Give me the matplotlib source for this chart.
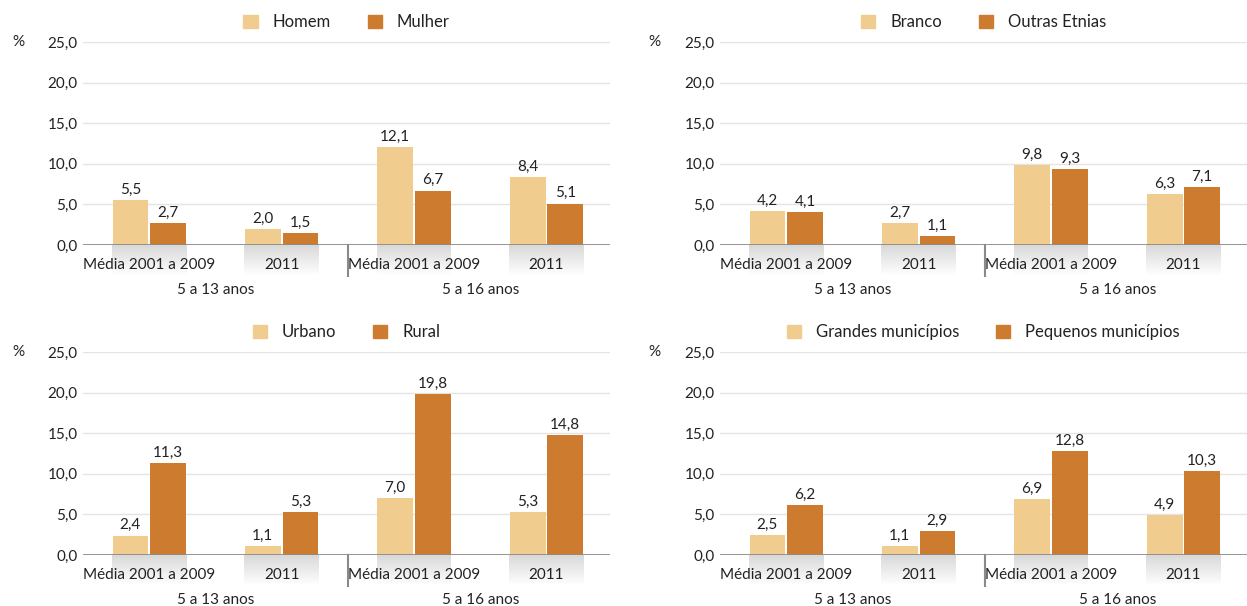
import numpy as np
import matplotlib.pyplot as plt
from matplotlib.patches import Rectangle

plt.rcParams['font.family'] = ['Lato', 'DejaVu Sans']

categorias = ['Média 2001 a 2009', '2011', 'Média 2001 a 2009', '2011']
faixas = ['5 a 13 anos', '5 a 16 anos']

series_sexo = ['Homem', 'Mulher']
homem = [5.5, 2.0, 12.1, 8.4]
mulher = [2.7, 1.5, 6.7, 5.1]

series_cor = ['Branco', 'Outras Etnias']
branco = [4.2, 2.7, 9.8, 6.3]
outras = [4.1, 1.1, 9.3, 7.1]

series_local = ['Urbano', 'Rural']
urbano = [2.4, 1.1, 7.0, 5.3]
rural = [11.3, 5.3, 19.8, 14.8]

series_mun = ['Grandes municípios', 'Pequenos municípios']
grandes = [2.5, 1.1, 6.9, 4.9]
pequenos = [6.2, 2.9, 12.8, 10.3]

claro = '#F0CD8E'
escuro = '#CD7B2F'
W, H = 1247, 606

fig = plt.figure(figsize=(W / 100, H / 100), dpi=100)


def fmt(v):
    return f'{v:.1f}'.replace('.', ',')


def painel(x0, x1, y0, y25, nomes, a, b):
    ax = fig.add_axes([x0 / W, (H - y0) / H, (x1 - x0) / W, (y0 - y25) / H])
    x = np.arange(len(categorias))
    w = 0.27
    off = 0.142
    for xs, vals, cor in [(x - off, a, claro), (x + off, b, escuro)]:
        ax.bar(xs, vals, w, color=cor, zorder=3)
        for xi, v in zip(xs, vals):
            ax.text(xi, v + 0.4, fmt(v), ha='center', va='bottom', fontsize=11, color='#222222')
    ax.set_xlim(-0.5, 3.48)
    ax.set_ylim(0, 25)
    ax.set_yticks(np.arange(0, 26, 5))
    ax.set_yticklabels([fmt(v) for v in np.arange(0, 26, 5)], fontsize=11, color='#222222')
    ax.tick_params(axis='y', length=0, pad=4)
    ax.set_xticks([])
    for s in ax.spines.values():
        s.set_visible(False)
    ax.grid(axis='y', color='#e4e4e4', linewidth=1, zorder=0)
    ax.axhline(0, color='#8a8a8a', linewidth=2, zorder=4)

    tr = ax.get_xaxis_transform()
    # sombreado degradê sob as categorias
    n = 20
    for xc in x:
        for i in range(n):
            g = 0.85 + 0.15 * (i / (n - 1))
            ax.add_patch(Rectangle((xc - 0.282, -0.155 * (i + 1) / n), 0.564, 0.155 / n,
                                   transform=tr, color=(g, g, g), clip_on=False, zorder=1, lw=0))
        ax.text(xc, -0.098, categorias[xc], transform=tr, ha='center', va='center',
                fontsize=11, color='#222222', zorder=5)
    ax.plot([1.5, 1.5], [0, -0.155], transform=tr, color='#8a8a8a', lw=1.5, clip_on=False)
    for k, f in enumerate(faixas):
        ax.text(0.5 + 2 * k, -0.222, f, transform=tr, ha='center', va='center',
                fontsize=11, color='#222222')

    hs = [Rectangle((0, 0), 1, 1, color=claro), Rectangle((0, 0), 1, 1, color=escuro)]
    ax.legend(hs, nomes, loc='lower center', bbox_to_anchor=(0.5, 1.025), ncol=2, frameon=False,
              fontsize=12, handlelength=0.85, handleheight=0.85, columnspacing=2.2,
              handletextpad=0.9, borderaxespad=0, labelcolor='#222222')
    return ax


painel(83, 610, 245, 42, series_sexo, homem, mulher)
painel(720, 1247, 245, 42, series_cor, branco, outras)
painel(83, 610, 555, 352, series_local, urbano, rural)
painel(720, 1247, 555, 352, series_mun, grandes, pequenos)
for xp in (12, 648):
    for yp in (42, 352):
        fig.text(xp / W, (H - yp) / H, '%', fontsize=11, va='center', ha='left', color='#222222')

fig.savefig('out.png', dpi=100)
